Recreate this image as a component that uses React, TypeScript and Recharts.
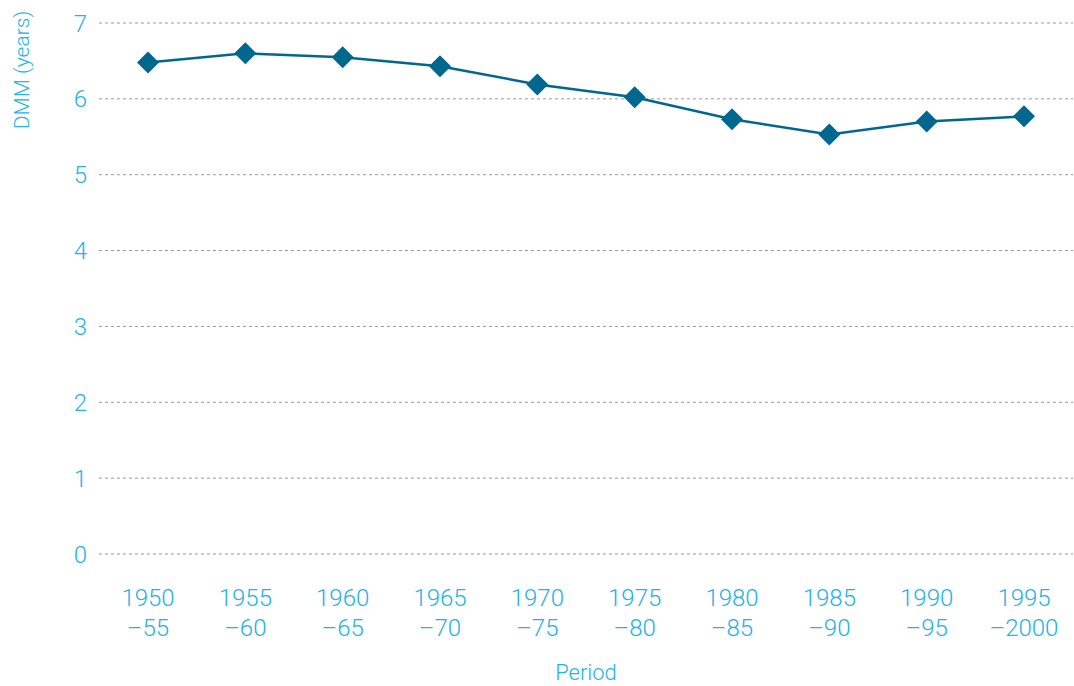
import React from 'react';
import { LineChart, Line, XAxis, YAxis, CartesianGrid } from 'recharts';

const periods = ['1950–55', '1955–60', '1960–65', '1965–70', '1970–75', '1975–80', '1980–85', '1985–90', '1990–95', '1995–2000'];
const startYears = ['1950', '1955', '1960', '1965', '1970', '1975', '1980', '1985', '1990', '1995'];
const endYears = ['–55', '–60', '–65', '–70', '–75', '–80', '–85', '–90', '–95', '–2000'];
const dmm = [6.48, 6.6, 6.55, 6.43, 6.19, 6.02, 5.73, 5.53, 5.7, 5.77];
const yTicks = [0, 1, 2, 3, 4, 5, 6, 7];

const data = periods.map((p, i) => ({ period: p, start: startYears[i], end: endYears[i], dmm: dmm[i] }));

const FONT = 'Roboto, sans-serif';
const TEXT = '#22b2ec';
const LINE = '#00678f';

const Diamond = (props: any) => {
  const { cx, cy } = props;
  if (cx == null || cy == null) return null;
  const r = 11;
  return <polygon points={`${cx},${cy - r} ${cx + r},${cy} ${cx},${cy + r} ${cx - r},${cy}`} fill={LINE} />;
};

const PeriodTick = (props: any) => {
  const { x, y, index } = props;
  return (
    <text x={x} y={y} textAnchor="middle" fill={TEXT} fontSize={24} fontWeight={300} fontFamily={FONT}>
      <tspan x={x} dy={50}>{startYears[index]}</tspan>
      <tspan x={x} dy={30}>{endYears[index]}</tspan>
    </text>
  );
};

const YLabel = (props: any) => {
  const { viewBox } = props;
  const x = 22;
  const y = viewBox.y + 47;
  return (
    <text x={x} y={y} transform={`rotate(-90 ${x} ${y})`} textAnchor="middle" dominantBaseline="central" fill={TEXT} fontSize={21} fontWeight={300} fontFamily={FONT}>
      DMM (years)
    </text>
  );
};

const XLabel = (props: any) => {
  const { viewBox } = props;
  const x = viewBox.x + viewBox.width / 2;
  return (
    <text x={x} y={680} textAnchor="middle" fill={TEXT} fontSize={22} fontWeight={300} fontFamily={FONT}>
      Period
    </text>
  );
};

export default function App() {
  return (
    <div style={{ position: 'absolute', top: 0, left: 0, width: 1074, height: 686, background: '#fff' }}>
      <LineChart width={1074} height={686} data={data} margin={{ top: 23, right: 1, left: 0, bottom: 0 }}>
        <CartesianGrid vertical={false} strokeDasharray="3 3" stroke="#9a9a9a" />
        <XAxis
          dataKey="period"
          height={132}
          axisLine={false}
          tickLine={false}
          tickSize={0}
          interval={0}
          padding={{ left: 49, right: 49 }}
          tick={<PeriodTick />}
          label={<XLabel />}
        />
        <YAxis
          width={99}
          domain={[0, 7]}
          ticks={yTicks}
          axisLine={false}
          tickLine={false}
          tickSize={0}
          tickMargin={12}
          tick={{ fill: TEXT, fontSize: 24, fontWeight: 300, fontFamily: FONT }}
          label={<YLabel />}
        />
        <Line
          type="linear"
          dataKey="dmm"
          stroke={LINE}
          strokeWidth={2.5}
          dot={<Diamond />}
          activeDot={false}
          isAnimationActive={false}
        />
      </LineChart>
    </div>
  );
}
